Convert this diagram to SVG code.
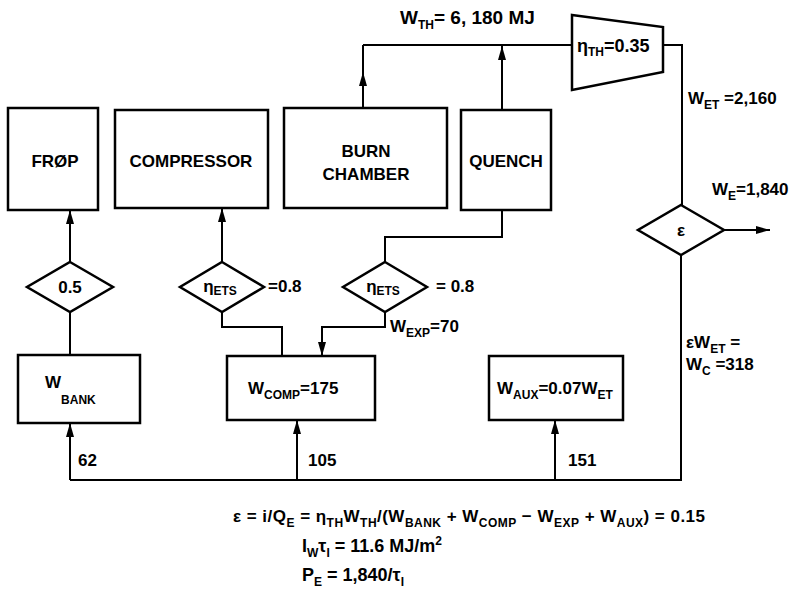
<svg xmlns="http://www.w3.org/2000/svg" width="806" height="600" viewBox="0 0 806 600">
<defs>
<marker id="ah" viewBox="0 0 14 8" refX="14" refY="4" markerWidth="14" markerHeight="8" markerUnits="userSpaceOnUse" orient="auto"><path d="M0,0 L14,4 L0,8 z" fill="#000"/></marker>
<style>
.box{fill:#fff;stroke:#000;stroke-width:2.5}
.ln{fill:none;stroke:#000;stroke-width:2}
text{font-family:"Liberation Sans",Arial,sans-serif;fill:#000}
.t{font-size:17px;font-weight:bold}
.l{font-size:17px;font-weight:bold}
.s{font-size:12px;font-weight:bold}
.big{font-size:18px}
</style>
</defs>
<rect width="806" height="600" fill="#fff"/>
<g id="connectors">
<polyline class="ln" points="363,45 572,45"/>
<line class="ln" x1="363" y1="108" x2="363" y2="72" marker-end="url(#ah)"/>
<line class="ln" x1="363" y1="72" x2="363" y2="45"/>
<line class="ln" x1="502" y1="110" x2="502" y2="46" marker-end="url(#ah)"/>
<polyline class="ln" points="663,45 682,45 682,205"/>
<polyline class="ln" points="681,255 681,480 70,480"/>
<line class="ln" x1="723" y1="230" x2="770" y2="230" marker-end="url(#ah)"/>
<line class="ln" x1="70" y1="262" x2="70" y2="210" marker-end="url(#ah)"/>
<line class="ln" x1="70" y1="312" x2="70" y2="355"/>
<line class="ln" x1="70" y1="480" x2="70" y2="423" marker-end="url(#ah)"/>
<line class="ln" x1="222" y1="262" x2="222" y2="208" marker-end="url(#ah)"/>
<polyline class="ln" points="222,312 222,327 282,327 282,356"/>
<polyline class="ln" points="385,312 385,327 322,327 322,356" marker-end="url(#ah)"/>
<polyline class="ln" points="385,262 385,237 502,237 502,210"/>
<line class="ln" x1="297" y1="480" x2="297" y2="420" marker-end="url(#ah)"/>
<line class="ln" x1="555" y1="480" x2="555" y2="420" marker-end="url(#ah)"/>
</g>
<g id="frop"><rect class="box" x="8" y="108" width="90" height="102"/><text class="t" x="55" y="167" text-anchor="middle">FRØP</text></g>
<g id="compressor"><rect class="box" x="115" y="110" width="153" height="98"/><text class="t" x="191" y="167" text-anchor="middle">COMPRESSOR</text></g>
<g id="burn-chamber"><rect class="box" x="284" y="108" width="163" height="100"/><text class="t" x="366" y="157" text-anchor="middle">BURN</text><text class="t" x="366" y="180" text-anchor="middle">CHAMBER</text></g>
<g id="quench"><rect class="box" x="461" y="110" width="90" height="100"/><text class="t" x="506" y="167" text-anchor="middle">QUENCH</text></g>
<g id="turbine"><polygon class="box" points="572,15 663,27 663,72 572,90"/><text class="l big" x="577" y="52">η<tspan class="s" dy="4">TH</tspan><tspan dy="-4">=0.35</tspan></text></g>
<g id="wth-label"><text class="l" x="400" y="24" style="font-size:19px">W<tspan class="s" dy="5">TH</tspan><tspan dy="-5">= 6, 180 MJ</tspan></text></g>
<g id="wet-label"><text class="l" x="688" y="104">W<tspan class="s" dy="5">ET</tspan><tspan dy="-5"> =2,160</tspan></text></g>
<g id="eps-diamond"><polygon class="box" points="681,205 724,230 681,255 638,230"/><text class="t" x="681" y="236" text-anchor="middle">ε</text></g>
<g id="we-label"><text class="l" x="712" y="195">W<tspan class="s" dy="5">E</tspan><tspan dy="-5">=1,840</tspan></text></g>
<g id="half-diamond"><polygon class="box" points="70,262 113,287 70,312 27,287"/><text class="l" x="70" y="293" text-anchor="middle">0.5</text></g>
<g id="eta-ets-1"><polygon class="box" points="222,262 264,287 222,312 180,287"/><text class="l" x="220" y="292" text-anchor="middle">η<tspan class="s" dy="3">ETS</tspan></text><text class="l" x="268" y="292">=0.8</text></g>
<g id="eta-ets-2"><polygon class="box" points="385,262 427,287 385,312 343,287"/><text class="l" x="383" y="292" text-anchor="middle">η<tspan class="s" dy="3">ETS</tspan></text><text class="l" x="436" y="292">= 0.8</text></g>
<g id="wexp-label"><text class="l" x="390" y="332">W<tspan class="s" dy="5">EXP</tspan><tspan dy="-5">=70</tspan></text></g>
<g id="wc-label"><text class="l" x="686" y="348">εW<tspan class="s" dy="5">ET</tspan><tspan dy="-5"> =</tspan></text><text class="l" x="686" y="370">W<tspan class="s" dy="5">C</tspan><tspan dy="-5"> =318</tspan></text></g>
<g id="wbank"><rect class="box" x="18" y="355" width="122" height="68"/><text class="t" x="45" y="388">W<tspan class="s" dy="16">BANK</tspan></text></g>
<g id="wcomp"><rect class="box" x="227" y="356" width="148" height="64"/><text class="l" x="248" y="394">W<tspan class="s" dy="5">COMP</tspan><tspan dy="-5">=175</tspan></text></g>
<g id="waux"><rect class="box" x="489" y="356" width="134" height="64"/><text class="l" x="497" y="394">W<tspan class="s" dy="5">AUX</tspan><tspan dy="-5">=0.07W</tspan><tspan class="s" dy="5">ET</tspan></text></g>
<g id="flow-labels"><text class="l" x="78" y="466">62</text><text class="l" x="308" y="466">105</text><text class="l" x="568" y="466">151</text></g>
<g id="equations">
<text class="l" x="233" y="522" textLength="472" lengthAdjust="spacing">ε = i/Q<tspan class="s" dy="5">E</tspan><tspan dy="-5"> = η</tspan><tspan class="s" dy="5">TH</tspan><tspan dy="-5">W</tspan><tspan class="s" dy="5">TH</tspan><tspan dy="-5">/(W</tspan><tspan class="s" dy="5">BANK</tspan><tspan dy="-5"> + W</tspan><tspan class="s" dy="5">COMP</tspan><tspan dy="-5"> − W</tspan><tspan class="s" dy="5">EXP</tspan><tspan dy="-5"> + W</tspan><tspan class="s" dy="5">AUX</tspan><tspan dy="-5">) = 0.15</tspan></text>
<text class="l big" x="302" y="552">I<tspan class="s" dy="5">W</tspan><tspan dy="-5">τ</tspan><tspan class="s" dy="5">I</tspan><tspan dy="-5"> = 11.6 MJ/m</tspan><tspan class="s" dy="-7">2</tspan></text>
<text class="l big" x="302" y="581">P<tspan class="s" dy="5">E</tspan><tspan dy="-5"> = 1,840/τ</tspan><tspan class="s" dy="5">I</tspan></text>
</g>
</svg>
